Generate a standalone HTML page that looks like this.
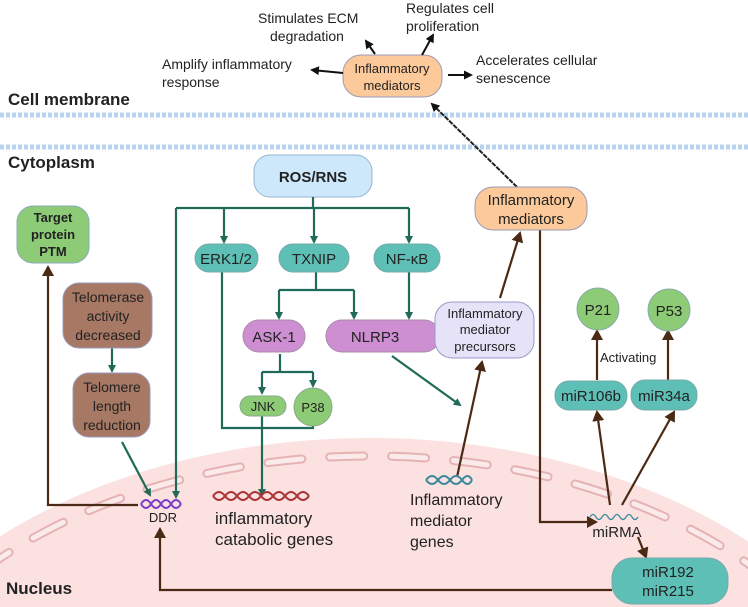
<!DOCTYPE html>
<html><head><meta charset="utf-8"><style>
html,body{margin:0;padding:0;background:#fff;width:748px;height:607px;overflow:hidden}
svg{display:block}
text{font-family:"Liberation Sans",sans-serif;fill:#222}
.b{font-weight:bold}
</style></head><body>
<svg width="748" height="607" viewBox="0 0 748 607" xmlns="http://www.w3.org/2000/svg">
<defs>
<marker id="ag" markerWidth="8" markerHeight="8" refX="6" refY="4" orient="auto" markerUnits="userSpaceOnUse"><path d="M0,0 L8,4 L0,8 z" fill="#1f6b57"/></marker>
<marker id="ab" markerWidth="12" markerHeight="12" refX="9" refY="6" orient="auto" markerUnits="userSpaceOnUse"><path d="M0,0 L11,6 L0,12 z" fill="#4a2a14"/></marker>
<marker id="ak" markerWidth="9" markerHeight="9" refX="7" refY="4.5" orient="auto" markerUnits="userSpaceOnUse"><path d="M0,0 L9,4.5 L0,9 z" fill="#111"/></marker>
</defs>
<!-- nucleus -->
<ellipse cx="370" cy="800" rx="540" ry="362" fill="#fbe1e0"/>
<ellipse cx="370" cy="808" rx="525" ry="352" fill="none" stroke="#e6b3b4" stroke-width="9" stroke-linecap="round" stroke-dasharray="34 28"/>
<ellipse cx="370" cy="808" rx="525" ry="352" fill="none" stroke="#fbeaea" stroke-width="5" stroke-linecap="round" stroke-dasharray="34 28"/>
<!-- membrane -->
<line x1="0" y1="115" x2="748" y2="115" stroke="#b8d3ef" stroke-width="5" stroke-dasharray="4 2"/>
<line x1="0" y1="147" x2="748" y2="147" stroke="#b8d3ef" stroke-width="5" stroke-dasharray="4 2"/>
<text x="8" y="105" font-size="17" class="b">Cell membrane</text>
<text x="8" y="168" font-size="17" class="b">Cytoplasm</text>
<text x="6" y="594" font-size="17" class="b">Nucleus</text>
<!-- top -->
<rect x="343" y="55" width="99" height="42" rx="18" fill="#fcc99a" stroke="#9b9bb8"/>
<text x="392" y="73" font-size="13" text-anchor="middle">Inflammatory</text>
<text x="392" y="90" font-size="13" text-anchor="middle">mediators</text>
<text x="258" y="23" font-size="14">Stimulates ECM</text><text x="270" y="41" font-size="14">degradation</text>
<text x="406" y="13" font-size="14">Regulates cell</text><text x="406" y="31" font-size="14">proliferation</text>
<text x="162" y="69" font-size="14">Amplify inflammatory</text><text x="162" y="87" font-size="14">response</text>
<text x="476" y="65" font-size="14">Accelerates cellular</text><text x="476" y="83" font-size="14">senescence</text>
<g stroke="#111" stroke-width="2" marker-end="url(#ak)">
<line x1="375" y1="54" x2="366" y2="41"/><line x1="422" y1="55" x2="433" y2="35"/>
<line x1="343" y1="73" x2="312" y2="70"/><line x1="448" y1="75" x2="471" y2="75"/>
</g>
<line x1="517" y1="187" x2="432" y2="104" stroke="#222" stroke-width="2" stroke-dasharray="5 1" marker-end="url(#ak)"/>
<!-- green network -->
<rect x="254" y="155" width="118" height="42" rx="16" fill="#cde7fb" stroke="#96b6d2"/>
<text x="313" y="182" font-size="15" class="b" text-anchor="middle">ROS/RNS</text>
<g stroke="#1f6b57" stroke-width="2.2" fill="none">
<line x1="313" y1="197" x2="313" y2="208"/>
<polyline points="176,208 409,208"/>
<line x1="224" y1="208" x2="224" y2="242" marker-end="url(#ag)"/>
<line x1="314" y1="208" x2="314" y2="242" marker-end="url(#ag)"/>
<line x1="409" y1="208" x2="409" y2="242" marker-end="url(#ag)"/>
<line x1="176" y1="208" x2="176" y2="497" marker-end="url(#ag)"/>
<line x1="316" y1="272" x2="316" y2="290"/>
<polyline points="279,290 354,290"/>
<line x1="279" y1="290" x2="279" y2="318" marker-end="url(#ag)"/>
<line x1="354" y1="290" x2="354" y2="318" marker-end="url(#ag)"/>
<line x1="409" y1="272" x2="409" y2="318" marker-end="url(#ag)"/>
<line x1="280" y1="354" x2="280" y2="372"/>
<polyline points="262,372 313,372"/>
<line x1="262" y1="372" x2="262" y2="393" marker-end="url(#ag)"/>
<line x1="313" y1="372" x2="313" y2="386" marker-end="url(#ag)"/>
<polyline points="222,272 222,428 313,428 313,425"/>
<line x1="262" y1="415" x2="262" y2="495" marker-end="url(#ag)"/>
<line x1="392" y1="356" x2="460" y2="405" marker-end="url(#ag)"/>
<line x1="112" y1="348" x2="112" y2="371" marker-end="url(#ag)"/>
<line x1="122" y1="442" x2="150" y2="495" marker-end="url(#ag)"/>
</g>
<g font-size="15" text-anchor="middle">
<rect x="195" y="244" width="63" height="28" rx="14" fill="#5ebfb6" stroke="#7aa"/><text x="226" y="264">ERK1/2</text>
<rect x="279" y="244" width="70" height="28" rx="14" fill="#5ebfb6" stroke="#7aa"/><text x="314" y="264">TXNIP</text>
<rect x="374" y="244" width="66" height="28" rx="14" fill="#5ebfb6" stroke="#7aa"/><text x="407" y="264">NF-κB</text>
<rect x="243" y="320" width="62" height="32" rx="16" fill="#cd8fd2" stroke="#a8a"/><text x="274" y="342">ASK-1</text>
<rect x="326" y="320" width="114" height="32" rx="16" fill="#cd8fd2" stroke="#a8a"/><text x="375" y="342">NLRP3</text>
<rect x="240" y="396" width="46" height="20" rx="10" fill="#8ecb77" stroke="#8a8"/><text x="263" y="411" font-size="13">JNK</text>
<circle cx="313" cy="407" r="19" fill="#8ecb77" stroke="#8a8"/><text x="313" y="412" font-size="13">P38</text>
</g>
<!-- left boxes -->
<rect x="17" y="206" width="72" height="57" rx="16" fill="#8ecb77" stroke="#8ab"/>
<g font-size="13" class="b" text-anchor="middle"><text x="53" y="222">Target</text><text x="53" y="239">protein</text><text x="53" y="256">PTM</text></g>
<rect x="63" y="283" width="89" height="65" rx="16" fill="#a77863" stroke="#9a9ac0"/>
<g font-size="14" text-anchor="middle"><text x="108" y="302">Telomerase</text><text x="108" y="321">activity</text><text x="108" y="340">decreased</text></g>
<rect x="73" y="373" width="77" height="64" rx="16" fill="#a77863" stroke="#9a9ac0"/>
<g font-size="14" text-anchor="middle"><text x="112" y="392">Telomere</text><text x="112" y="411">length</text><text x="112" y="430">reduction</text></g>
<!-- brown lines -->
<g stroke="#4a2a14" stroke-width="2.2" fill="none">
<polyline points="138,505 48,505 48,267" marker-end="url(#ab)"/>
<polyline points="612,590 160,590 160,529" marker-end="url(#ab)"/>
<line x1="457" y1="477" x2="482" y2="362" marker-end="url(#ab)"/>
<line x1="500" y1="298" x2="520" y2="233" marker-end="url(#ab)"/>
<polyline points="540,230 540,522 596,522" marker-end="url(#ab)"/>
<line x1="610" y1="505" x2="597" y2="412" marker-end="url(#ab)"/>
<line x1="622" y1="505" x2="674" y2="412" marker-end="url(#ab)"/>
<line x1="638" y1="537" x2="646" y2="557" marker-end="url(#ab)"/>
<line x1="597" y1="380" x2="597" y2="331" marker-end="url(#ab)"/>
<line x1="668" y1="380" x2="668" y2="331" marker-end="url(#ab)"/>
</g>
<!-- DNA icons -->
<path d="M141,504 q5,-8 10,0 t10,0 t10,0 t10,0" stroke="#7a3ec8" stroke-width="2" fill="none"/>
<path d="M141,504 q5,8 10,0 t10,0 t10,0 t10,0" stroke="#7a3ec8" stroke-width="2" fill="none"/>
<text x="163" y="522" font-size="13" text-anchor="middle">DDR</text>
<path d="M213,496 q6,-8 12,0 t12,0 t12,0 t12,0 t12,0 t12,0 t12,0 t12,0" stroke="#a33" stroke-width="2" fill="none"/>
<path d="M213,496 q6,8 12,0 t12,0 t12,0 t12,0 t12,0 t12,0 t12,0 t12,0" stroke="#a33" stroke-width="2" fill="none"/>
<text x="215" y="524" font-size="17">inflammatory</text><text x="215" y="545" font-size="17">catabolic genes</text>
<path d="M426,480 q6,-8 12,0 t12,0 t12,0 t10,0" stroke="#3b8a9c" stroke-width="2" fill="none"/>
<path d="M426,480 q6,8 12,0 t12,0 t12,0 t10,0" stroke="#3b8a9c" stroke-width="2" fill="none"/>
<g font-size="16"><text x="410" y="505">Inflammatory</text><text x="410" y="526">mediator</text><text x="410" y="547">genes</text></g>
<path d="M590,517 q3,-5 6,0 t6,0 t6,0 t6,0 t6,0 t6,0 t6,0 t6,0" stroke="#3b8a9c" stroke-width="1.3" fill="none"/>
<text x="617" y="537" font-size="15" text-anchor="middle">miRMA</text>
<!-- right boxes -->
<rect x="435" y="302" width="99" height="56" rx="17" fill="#e6e3f8" stroke="#9a9ac8"/>
<g font-size="13" text-anchor="middle"><text x="485" y="318">Inflammatory</text><text x="485" y="334">mediator</text><text x="485" y="351">precursors</text></g>
<rect x="475" y="187" width="112" height="43" rx="18" fill="#fcc99a" stroke="#9b9bb8"/>
<g font-size="15" text-anchor="middle"><text x="531" y="205">Inflammatory</text><text x="531" y="224">mediators</text></g>
<circle cx="598" cy="309" r="21" fill="#8ecb77" stroke="#8aa"/><text x="598" y="315" font-size="15" text-anchor="middle">P21</text>
<circle cx="669" cy="310" r="21" fill="#8ecb77" stroke="#8aa"/><text x="669" y="316" font-size="15" text-anchor="middle">P53</text>
<text x="600" y="362" font-size="13">Activating</text>
<rect x="555" y="381" width="72" height="29" rx="14" fill="#5ebfb6" stroke="#7aa"/><text x="591" y="401" font-size="15" text-anchor="middle">miR106b</text>
<rect x="631" y="380" width="66" height="30" rx="14" fill="#5ebfb6" stroke="#7aa"/><text x="664" y="401" font-size="15" text-anchor="middle">miR34a</text>
<rect x="612" y="558" width="116" height="46" rx="20" fill="#5ebfb6" stroke="#7aa"/>
<g font-size="15" text-anchor="middle"><text x="668" y="577">miR192</text><text x="668" y="596">miR215</text></g>
</svg>
</body></html>
